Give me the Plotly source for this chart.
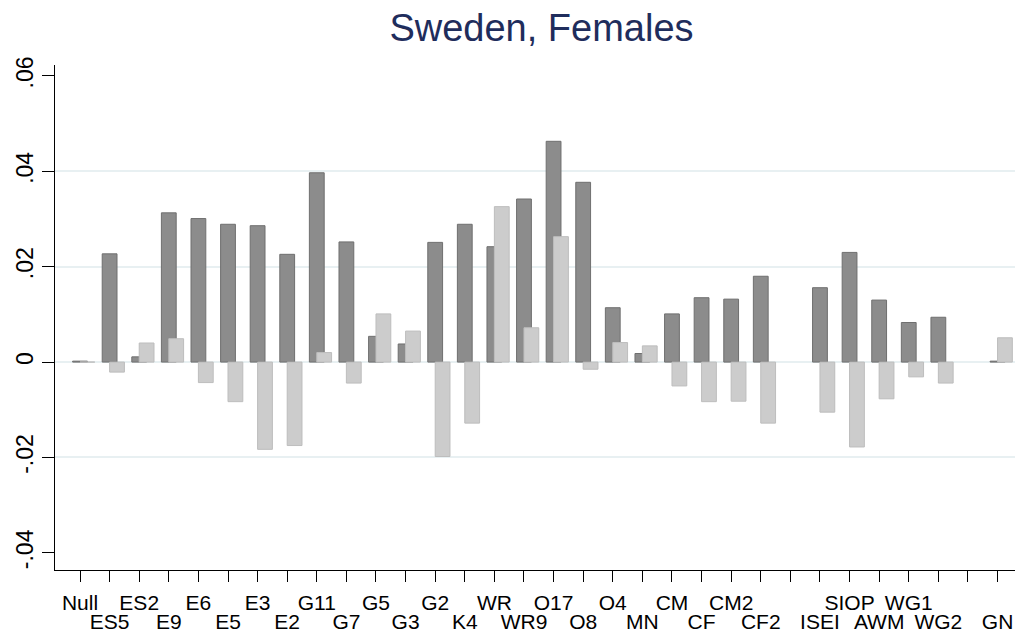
import plotly.graph_objects as go

categories = ["Null", "ES5", "ES2", "E9", "E6", "E5", "E3", "E2", "G11", "G7",
              "G5", "G3", "G2", "K4", "WR", "WR9", "O17", "O8", "O4", "MN",
              "CM", "CF", "CM2", "CF2", "", "ISEI", "SIOP", "AWM", "WG1", "WG2",
              "", "GN"]

dark_values = [0.0002, 0.0227, 0.0011, 0.0313, 0.0301, 0.0289, 0.0286, 0.0226,
               0.0397, 0.0252, 0.0054, 0.0038, 0.0251, 0.0289, 0.0242, 0.0342,
               0.0463, 0.0377, 0.0114, 0.0018, 0.0101, 0.0135, 0.0132, 0.0180,
               None, 0.0156, 0.0230, 0.0130, 0.0083, 0.0094, None, 0.0002]

light_values = [0.0, -0.0021, 0.0040, 0.0049, -0.0043, -0.0083, -0.0183, -0.0175,
                0.0020, -0.0044, 0.0101, 0.0065, -0.0198, -0.0128, 0.0326, 0.0072,
                0.0263, -0.0015, 0.0041, 0.0034, -0.0050, -0.0083, -0.0082, -0.0128,
                None, -0.0105, -0.0178, -0.0077, -0.0031, -0.0044, None, 0.0051]

y_tick_values = [-0.04, -0.02, 0, 0.02, 0.04, 0.06]
y_tick_labels = ["-.04", "-.02", "0", ".02", ".04", ".06"]
grid_values = [-0.02, 0, 0.02, 0.04]

positions = list(range(len(categories)))
bot_pos = [p for p in positions if p % 2 == 1]
bot_text = [categories[p] for p in bot_pos]

FONT = "Liberation Sans, Arial, sans-serif"
XR = [-0.845, 31.86]
YR = [-0.0436, 0.0623]

fig = go.Figure()
fig.add_trace(go.Bar(
    x=positions, y=dark_values, width=0.5,
    marker=dict(color="#8c8c8c", line=dict(color="#6f6f6f", width=1)),
    showlegend=False, hoverinfo="x+y"))
# light series drawn on the overlaying axes so it sits above the dark bars
fig.add_trace(go.Bar(
    x=[p + 0.25 for p in positions], y=light_values, width=0.5,
    xaxis="x2", yaxis="y2",
    marker=dict(color="#cccccc", line=dict(color="#bdbdbd", width=1)),
    showlegend=False, hoverinfo="x+y"))

W, H = 1015, 627
fig.update_layout(
    width=W, height=H,
    margin=dict(l=47, r=0, t=57, b=65, autoexpand=False),
    paper_bgcolor="white", plot_bgcolor="white",
    barmode="overlay",
    font=dict(family=FONT, color="black", size=21),
    title=dict(text="Sweden, Females", x=533.5 / W, xanchor="center",
               y=1 - 20 / H, yanchor="middle", yref="container",
               font=dict(family=FONT, size=38, color="#1f2d5c")),
    xaxis=dict(range=XR, tickmode="array", tickvals=positions,
               ticktext=[categories[p] if p % 2 == 0 else "" for p in positions],
               ticks="outside", ticklen=11, tickwidth=1.3, tickcolor="black",
               showline=True, linecolor="black", linewidth=1.3,
               showgrid=False, zeroline=False, automargin=False,
               ticklabelstandoff=3, tickfont=dict(size=21)),
    xaxis2=dict(range=XR, overlaying="x", anchor="y2", side="bottom",
                tickmode="array", tickvals=bot_pos, ticktext=bot_text,
                ticks="", showline=False, showgrid=False, zeroline=False,
                automargin=False, ticklabelstandoff=37,
                tickfont=dict(size=21)),
    yaxis=dict(range=YR, tickmode="array", tickvals=y_tick_values,
               ticktext=y_tick_labels, tickangle=-90,
               ticks="outside", ticklen=12, tickwidth=1.3, tickcolor="black",
               showline=True, linecolor="black", linewidth=1.3,
               showgrid=False, zeroline=False, automargin=False,
               tickfont=dict(size=23)),
    yaxis2=dict(range=YR, overlaying="y", anchor="x2", side="left",
                tickmode="array", tickvals=grid_values,
                showticklabels=False, ticks="", showline=False,
                showgrid=True, gridcolor="#e8f0f2", gridwidth=1.5,
                zeroline=False, automargin=False),
)

fig.write_html("out.html")
